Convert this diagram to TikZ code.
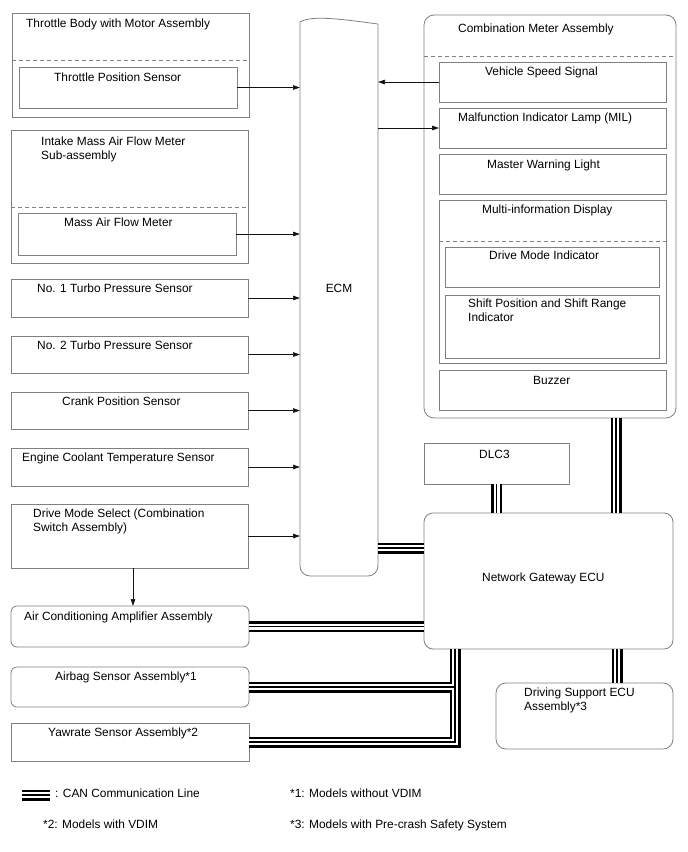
\documentclass[tikz,border=0pt]{standalone}
\usepackage{fontspec}
\setmainfont{Liberation Sans}
\usetikzlibrary{arrows.meta,calc,positioning}
\definecolor{FrameGray}{HTML}{808080}
\definecolor{WireInk}{HTML}{111111}
\tikzset{
  every node/.style={font=\fontsize{11.9}{14}\selectfont, text=black},
  box/.style={draw=FrameGray, line width=0.8pt, anchor=north west, inner sep=0pt, outer sep=0pt},
  roundbox/.style={box, rounded corners=6pt},
  lbl/.style={anchor=base west, inner sep=0pt, align=left},
  divider/.style={draw=FrameGray, line width=0.7pt, dash pattern=on 4pt off 3pt},
  signal/.style={-{Triangle[length=7pt,width=4.5pt]}, draw=WireInk, line width=0.7pt},
  can/.style={draw=black, line width=11pt, postaction={draw=white, line width=6pt}, postaction={draw=black, line width=1.5pt}},
}

\begin{document}
\begin{tikzpicture}[x=1pt,y=-1pt]
  \useasboundingbox (0,0) rectangle (688,852);
  % Left column: sensors feeding the ECM
  \node[box, minimum width=237pt, minimum height=104pt] (tbody) at (12,13) {};
  \node[box, minimum width=218pt, minimum height=41pt] (tps) at (19,67) {};
  \draw[divider] ($(tbody.north west)+(0,47)$) -- ($(tbody.north east)+(0,47)$);
  \node[lbl] (tbodytxt) at (26,27) {Throttle Body with Motor Assembly};
  \node[lbl] (tpstxt) at (54,81) {Throttle Position Sensor};

  \node[box, minimum width=237pt, minimum height=133pt] (mafsub) at (11,130) {};
  \node[box, minimum width=218pt, minimum height=42pt] (mafm) at (18,213) {};
  \draw[divider] ($(mafsub.north west)+(0,77)$) -- ($(mafsub.north east)+(0,77)$);
  \node[lbl] (mafsubtxt) at (41,159) {Intake Mass Air Flow Meter\\Sub-assembly};
  \node[lbl] (mafmtxt) at (64,226) {Mass Air Flow Meter};

  \node[box, minimum width=237pt, minimum height=38pt] (turboa) at (11,279) {};
  \node[lbl] (turboatxt) at (37,292) {No. 1 Turbo Pressure Sensor};
  \node[box, minimum width=237pt, minimum height=37pt] (turbob) at (11,336) {};
  \node[lbl] (turbobtxt) at (37,349) {No. 2 Turbo Pressure Sensor};
  \node[box, minimum width=237pt, minimum height=37pt] (crank) at (11,392) {};
  \node[lbl] (cranktxt) at (62,405) {Crank Position Sensor};
  \node[box, minimum width=237pt, minimum height=38pt] (coolant) at (11,448) {};
  \node[lbl] (coolanttxt) at (22,461) {Engine Coolant Temperature Sensor};
  \node[box, minimum width=237pt, minimum height=64pt] (dms) at (11,504) {};
  \node[lbl] (dmstxt) at (33,531) {Drive Mode Select (Combination\\Switch Assembly)};

  \node[roundbox, minimum width=238pt, minimum height=41pt] (ac) at (11,606) {};
  \node[lbl] (actxt) at (24,620) {Air Conditioning Amplifier Assembly};
  \node[roundbox, minimum width=238pt, minimum height=40pt] (airbag) at (11,667) {};
  \node[lbl] (airbagtxt) at (55,680) {Airbag Sensor Assembly*1};
  \node[box, minimum width=238pt, minimum height=38pt] (yaw) at (11,723) {};
  \node[lbl] (yawtxt) at (48,736) {Yawrate Sensor Assembly*2};

  % ECM with its wavy top edge
  \node[inner sep=0pt, outer sep=0pt, minimum width=78pt, minimum height=556pt, anchor=north west] (ecm) at (300,20) {};
  \draw[FrameGray, line width=0.8pt, rounded corners=10pt] (378,24) -- (378,576) -- (300,576) -- (300,22);
  \draw[FrameGray, line width=0.8pt] (300,22) .. controls (312,15) and (340,19) .. (378,24);
  \node (ecmtxt) at (339,288) {ECM};

  % Combination meter
  \node[roundbox, rounded corners=10pt, minimum width=252pt, minimum height=403pt] (comb) at (424,15) {};
  \draw[divider] ($(comb.north west)+(0,41)$) -- ($(comb.north east)+(0,41)$);
  \node[lbl] (combtxt) at (458,32) {Combination Meter Assembly};
  \node[box, minimum width=227pt, minimum height=40pt] (vss) at (439,62) {};
  \node[lbl] (vsstxt) at (485,75) {Vehicle Speed Signal};
  \node[box, minimum width=227pt, minimum height=40pt] (mil) at (439,108) {};
  \node[lbl] (miltxt) at (458,121) {Malfunction Indicator Lamp (MIL)};
  \node[box, minimum width=227pt, minimum height=40pt] (mwl) at (439,154) {};
  \node[lbl] (mwltxt) at (487,168) {Master Warning Light};
  \node[box, minimum width=227pt, minimum height=163pt] (mid) at (439,200) {};
  \draw[divider] ($(mid.north west)+(0,41)$) -- ($(mid.north east)+(0,41)$);
  \node[lbl] (midtxt) at (482,213) {Multi-information Display};
  \node[box, minimum width=214pt, minimum height=40pt] (dmi) at (445,247) {};
  \node[lbl] (dmitxt) at (489,259) {Drive Mode Indicator};
  \node[box, minimum width=214pt, minimum height=63pt] (spi) at (445,295) {};
  \node[lbl] (spitxt) at (468,321) {Shift Position and Shift Range\\Indicator};
  \node[box, minimum width=227pt, minimum height=40pt] (buzzer) at (439,370) {};
  \node[lbl] (buzzertxt) at (533,384) {Buzzer};

  % Gateway side
  \node[box, minimum width=145pt, minimum height=41pt] (dlc) at (424,443) {};
  \node[lbl] (dlctxt) at (479,458) {DLC3};
  \node[roundbox, rounded corners=9pt, minimum width=249pt, minimum height=136pt] (gw) at (424,513) {};
  \node[lbl] (gwtxt) at (482,581) {Network Gateway ECU};
  \node[roundbox, rounded corners=10pt, minimum width=177pt, minimum height=66pt] (dsecu) at (496,683) {};
  \node[lbl] (dsecutxt) at (524,710) {Driving Support ECU\\Assembly*3};

  % Signal wires
  \draw[signal] (tps.east) -- (tps.east -| ecm.west);
  \draw[signal] (mafm.east) -- (mafm.east -| ecm.west);
  \foreach \s in {turboa,turbob,crank,coolant,dms}
    \draw[signal] (\s.east) -- (\s.east -| ecm.west);
  \draw[signal] (vss.west) -- (vss.west -| ecm.east);
  \draw[signal] (mil.west -| ecm.east) -- (mil.west);
  \coordinate (dmsdrop) at ($(dms.south west)+(122,0)$);
  \draw[signal] (dmsdrop) -- (dmsdrop |- ac.north);

  % CAN bus
  \coordinate (ecmcan) at ($(ecm.south east)+(0,-28)$);
  \draw[can] (ecmcan) -- (ecmcan -| gw.west);
  \draw[can] (dlc.south) -- (dlc.south |- gw.north);
  \coordinate (combcan) at ($(comb.south west)+(192,0)$);
  \draw[can] (combcan) -- (combcan |- gw.north);
  \coordinate (dscan) at ($(gw.south west)+(193,0)$);
  \draw[can] (dscan) -- (dscan |- dsecu.north);
  \draw[can] (ac.east) -- (ac.east -| gw.west);
  \coordinate (buscan) at ($(gw.south west)+(31,0)$);
  \draw[can] (buscan) |- (airbag.east) (buscan) |- (yaw.east);

  % Legend
  \draw[can] (22,795) -- (50,795);
  \node[lbl] (legcan) at (55,797) {: CAN Communication Line};
  \node[lbl] (legone) at (290,797) {*1: Models without VDIM};
  \node[lbl] (legtwo) at (43,828) {*2: Models with VDIM};
  \node[lbl] (legthree) at (290,828) {*3: Models with Pre-crash Safety System};
\end{tikzpicture}
\end{document}
